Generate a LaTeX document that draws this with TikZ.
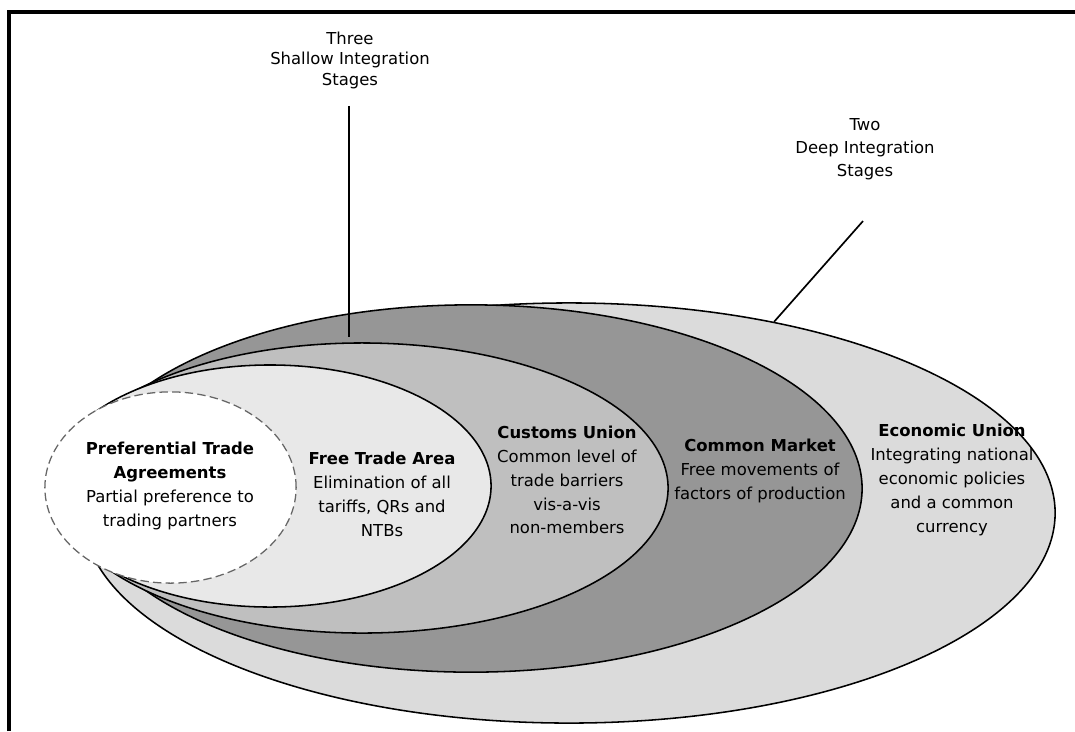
\documentclass[tikz,border=0pt]{standalone}
\usepackage{fontspec}
\setmainfont{DejaVu Sans}
\usetikzlibrary{shapes.geometric,positioning,calc}
\definecolor{eugray}{gray}{0.86}
\definecolor{cmgray}{gray}{0.59}
\definecolor{cugray}{gray}{0.75}
\definecolor{ftagray}{gray}{0.91}
\tikzset{
stagering/.style={ellipse,draw=black,line width=1.1pt,inner sep=0pt},
ptaring/.style={ellipse,draw=black!60,line width=0.9pt,dash pattern=on 6pt off 3pt,fill=white,inner sep=0pt},
stagetext/.style={align=center,inner sep=0pt,font=\fontsize{11.7pt}{17pt}\selectfont},
stagelabel/.style={align=center,inner sep=0pt},
leadline/.style={line width=1.2pt}
}
\begin{document}
\begin{tikzpicture}[x=0.025cm,y=-0.025cm]
\useasboundingbox (0,0) rectangle (1075,731);
\draw[line width=2.2pt] (9,731) -- (9,12) -- (1075,12);

% nested stages, outermost first
\node[stagering,fill=eugray,minimum width=24.3cm,minimum height=10.5cm] (eu) at (569,513) {};
\node[stagering,fill=cmgray,minimum width=19.55cm,minimum height=9.18cm] (cm) at (471,488.5) {};
\node[stagering,fill=cugray,minimum width=15.3cm,minimum height=7.25cm] (cu) at (362,488) {};
\node[stagering,fill=ftagray,minimum width=11.05cm,minimum height=6.05cm] (fta) at (270,486) {};
\node[ptaring,minimum width=6.28cm,minimum height=4.78cm] (pta) at (170.5,487.5) {};

\node[stagetext] (ptatext) at (170,486) {\textbf{Preferential Trade}\\\textbf{Agreements}\\Partial preference to\\trading partners};
\node[stagetext] (ftatext) at (382,494) {\textbf{Free Trade Area}\\Elimination of all\\tariffs, QRs and\\NTBs};
\node[stagetext] (cutext) at (567,480) {\textbf{Customs Union}\\Common level of\\trade barriers\\vis-a-vis\\non-members};
\node[stagetext] (cmtext) at (760,471) {\textbf{Common Market}\\Free movements of\\factors of production};
\node[stagetext] (eutext) at (952,480) {\textbf{Economic Union}\\Integrating national\\economic policies\\and a common\\currency};

% leader labels
\node[stagelabel,font=\fontsize{11.7pt}{14.6pt}\selectfont] (shallow) at (350,60) {Three\\Shallow Integration\\Stages};
\node[stagelabel,font=\fontsize{11.7pt}{16.4pt}\selectfont] (deep) at (865,149) {Two\\Deep Integration\\Stages};

\draw[leadline] ($(shallow.south)+(-1,17)$) -- ($(shallow.south |- cu.north)+(-1,-5)$);
\draw[leadline] ($(deep.south)+(-2,41)$) -- (eu.43);
\end{tikzpicture}
\end{document}
